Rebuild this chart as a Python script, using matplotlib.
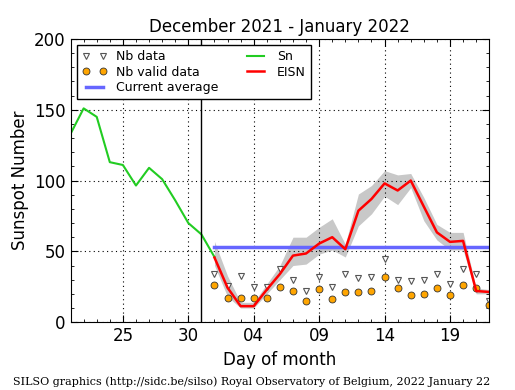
import numpy as np
import matplotlib
matplotlib.use("Agg")
import matplotlib.pyplot as plt
import matplotlib.dates as mdates

# daily values
sn_days = np.arange("2021-12-21", "2022-01-02", dtype="datetime64[D]")
sn = [133, 151, 145, 113, 111, 96.5, 109, 101, 86, 70, 62, 46]

days = np.arange("2022-01-01", "2022-01-23", dtype="datetime64[D]")
eisn = [45.6, 24.3, 11.3, 11.3, 23, 34, 47, 48.5, 55.5, 60, 51.5,
        78.7, 87, 98, 93, 100, 81.6, 63.4, 56.7, 57.4, 22, 21.3]
eisn_hi = [57, 32.6, 14, 14, 27, 40, 60, 60, 67, 73, 55,
           90.5, 96.5, 107, 104, 105, 88, 69, 63.4, 63.4, 24, 23]
eisn_lo = [40, 18, 10, 10, 20, 30, 40, 41, 48, 51, 46,
           68, 76.5, 89, 83, 95, 71.6, 58, 51, 51, 20, 20]
nb_data = [33.8, 25.5, 32.6, 24.8, 24.8, 37.4, 30, 22, 32, 25, 34,
           31.4, 32, 44.4, 30, 29, 29.5, 33.8, 26.7, 37.4, 33.8, 15]
nb_valid = [26.2, 17.3, 17.3, 17.3, 17.3, 25, 22, 15, 23.6, 16.5, 21.3,
            21.3, 22, 31.9, 24.3, 18.9, 20, 23.8, 19, 26.2, 24.3, 12]
current_avg = 53

tick_days = np.array(["2021-12-25", "2021-12-30", "2022-01-04", "2022-01-09",
                      "2022-01-14", "2022-01-19"], dtype="datetime64[D]")
tick_labels = ["25", "30", "04", "09", "14", "19"]

fig = plt.figure(figsize=(5.15, 3.9), dpi=100)
ax = fig.add_axes([0.137, 0.174, 0.813, 0.726])

ax.fill_between(days, eisn_lo, eisn_hi, color="#c8c8c8", lw=0)
l_nb, = ax.plot(days, nb_data, "v", ms=4.5, mfc="white", mec="#555555", mew=0.8, ls="none", label="Nb data")
l_val, = ax.plot(days, nb_valid, "o", ms=5, mfc="orange", mec="#333333", mew=0.6, ls="none", label="Nb valid data")
l_avg, = ax.plot([days[0], days[-1]], [current_avg, current_avg], color="#6666ff", lw=2.5, label="Current average")
l_sn, = ax.plot(sn_days, sn, color="#22cc22", lw=1.5, label="Sn")
l_eisn, = ax.plot(days, eisn, color="red", lw=1.8, label="EISN")
ax.axvline(np.datetime64("2021-12-31"), color="black", lw=1)

ax.set_xlim(np.datetime64("2021-12-21"), np.datetime64("2022-01-22"))
ax.set_ylim(0, 200)
ax.set_xticks(tick_days)
ax.set_xticklabels(tick_labels)
ax.xaxis.set_minor_locator(mdates.DayLocator())
ax.set_yticks([0, 50, 100, 150, 200])
ax.set_yticks(np.arange(0, 201, 10), minor=True)
ax.tick_params(which="both", direction="in", top=True, right=True, labelsize=12)
ax.tick_params(which="major", length=5)
ax.tick_params(which="minor", length=2.5)
ax.grid(True, which="major", ls=(0, (1, 3)), color="black", lw=0.8)

ax.set_title("December 2021 - January 2022", fontsize=12, pad=5)
ax.set_xlabel("Day of month", fontsize=12)
ax.set_ylabel("Sunspot Number", fontsize=12)

leg = ax.legend([l_nb, l_val, l_avg, l_sn, l_eisn],
                ["Nb data", "Nb valid data", "Current average", "Sn", "EISN"],
                ncol=2, loc="upper left", numpoints=2, fontsize=9,
                fancybox=False, framealpha=1, edgecolor="black",
                handlelength=2.0, handletextpad=0.7, labelspacing=0.2,
                columnspacing=2.0, borderaxespad=0.5)
leg.get_frame().set_linewidth(1)

fig.text(0.025, 0.012, "SILSO graphics (http://sidc.be/silso) Royal Observatory of Belgium, 2022 January 22",
         family="DejaVu Serif", fontsize=8)

fig.savefig("out.png", dpi=100)
